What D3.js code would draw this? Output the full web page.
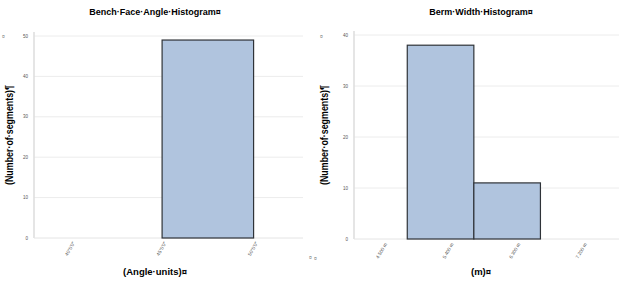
<!DOCTYPE html>
<html>
<head>
<meta charset="utf-8">
<script src="https://cdn.jsdelivr.net/npm/d3@7"></script>
<style>
  body { margin: 0; background: #fff; }
  svg { display: block; font-family: "Liberation Sans", Arial, sans-serif; }
</style>
</head>
<body>
<svg id="chart" width="622" height="287"></svg>
<script>
// bench face angle histogram
var angleTickLabels = ["40°0'0\"", "45°0'0\"", "50°0'0\""];
var angleCounts = [0, 49];
var angleYTicks = [0, 10, 20, 30, 40, 50];

// berm width histogram
var widthTickLabels = ["4.500 m", "5.400 m", "6.300 m", "7.200 m"];
var widthCounts = [38, 11, 0];
var widthYTicks = [0, 10, 20, 30, 40];

var svg = d3.select("#chart");

function drawHistogram(cfg) {
    var g = svg.append("g");
    var x = d3.scaleLinear().domain(cfg.xDomain).range([cfg.left, cfg.right]),
        y = d3.scaleLinear().domain([0, d3.max(cfg.yTicks)]).range([cfg.bottom, cfg.top]);

    // gridlines
    g.append("g").selectAll("line")
        .data(cfg.yTicks.filter(function (d) { return d > 0; }))
      .enter().append("line")
        .attr("x1", cfg.left).attr("x2", cfg.right)
        .attr("y1", function (d) { return y(d); })
        .attr("y2", function (d) { return y(d); })
        .style("stroke", "#ececec").style("stroke-width", 1);

    // axes lines
    g.append("line")
        .attr("x1", cfg.left).attr("x2", cfg.left)
        .attr("y1", cfg.top - 4).attr("y2", cfg.bottom)
        .style("stroke", "#dcdcdc").style("stroke-width", 1.5);
    g.append("line")
        .attr("x1", cfg.left).attr("x2", cfg.right)
        .attr("y1", cfg.bottom).attr("y2", cfg.bottom)
        .style("stroke", "#e4e4e4").style("stroke-width", 1);

    // y tick labels
    g.append("g").selectAll("text")
        .data(cfg.yTicks)
      .enter().append("text")
        .attr("x", cfg.left - 6)
        .attr("y", function (d) { return y(d) + 1.5; })
        .attr("text-anchor", "end")
        .style("font-size", "4.5px").style("fill", "#555")
        .text(function (d) { return d; });

    // bars
    g.append("g").selectAll("rect")
        .data(cfg.counts)
      .enter().append("rect")
        .filter(function (d) { return d > 0; })
        .attr("x", function (d) { return x(cfg.counts.indexOf(d)); })
        .attr("width", function (d) { var i = cfg.counts.indexOf(d); return x(i + 1) - x(i); })
        .attr("y", function (d) { return y(d); })
        .attr("height", function (d) { return y(0) - y(d); })
        .style("fill", "#b0c4de")
        .style("stroke", "#2f3338")
        .style("stroke-width", 1.2);

    // x tick labels, rotated
    g.append("g").selectAll("text")
        .data(cfg.xTickLabels)
      .enter().append("text")
        .attr("transform", function (d, i) {
            return "translate(" + x(i + cfg.labelShift) + "," + (cfg.bottom + 5) + ") rotate(-60)";
        })
        .attr("text-anchor", "end")
        .style("font-size", "4.8px").style("fill", "#555")
        .text(function (d) { return d; });

    // titles
    g.append("text")
        .attr("x", cfg.titleX).attr("y", 15)
        .attr("text-anchor", "middle")
        .style("font-size", "9px").style("font-weight", "bold")
        .text(cfg.title);
    g.append("text")
        .attr("x", cfg.titleX).attr("y", 275)
        .attr("text-anchor", "middle")
        .style("font-size", "9.5px").style("font-weight", "bold")
        .text(cfg.xLabel);
    g.append("text")
        .attr("transform", "translate(" + cfg.yLabelX + ",135) rotate(-90)")
        .attr("text-anchor", "middle")
        .attr("textLength", 100)
        .attr("lengthAdjust", "spacingAndGlyphs")
        .style("font-size", "10px").style("font-weight", "bold")
        .text("(Number·of·segments)¶");
}

drawHistogram({
    title: "Bench·Face·Angle·Histogram¤", xLabel: "(Angle·units)¤",
    counts: angleCounts, yTicks: angleYTicks, xTickLabels: angleTickLabels,
    xDomain: [-0.4, 2.54], labelShift: 0.05,
    left: 34, right: 303, top: 36, bottom: 238,
    titleX: 155, yLabelX: 13
});

drawHistogram({
    title: "Berm·Width·Histogram¤", xLabel: "(m)¤",
    counts: widthCounts, yTicks: widthYTicks, xTickLabels: widthTickLabels,
    xDomain: [-0.8, 3.18], labelShift: -0.3,
    left: 354, right: 619, top: 35, bottom: 239,
    titleX: 481, yLabelX: 328
});

// stray cell markers
var marks = [[2, 38], [320, 38], [309, 259], [314, 260]];
svg.append("g").selectAll("text")
    .data(marks)
  .enter().append("text")
    .attr("x", function (d) { return d[0]; })
    .attr("y", function (d) { return d[1]; })
    .style("font-size", "5px").style("fill", "#777")
    .text("¤");
</script>
</body>
</html>
